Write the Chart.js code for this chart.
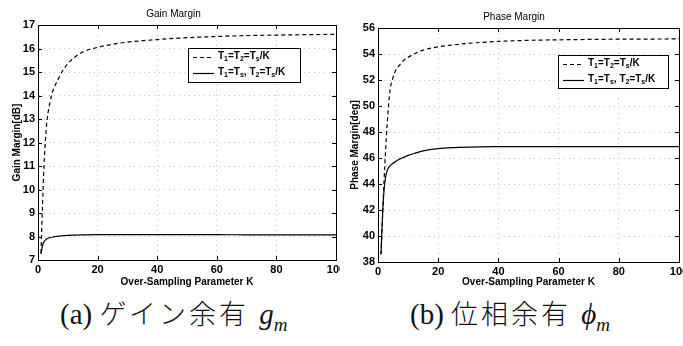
<!DOCTYPE html>
<html>
<head>
<meta charset="utf-8">
<script src="https://cdn.jsdelivr.net/npm/chart.js@4.4.1/dist/chart.umd.min.js"></script>
<style>
    body { margin: 0; background: #fff; width: 683px; height: 346px; position: relative; overflow: hidden; }
    canvas { position: absolute; top: 0; }
    #gainChart { left: 0; }
    #phaseChart { left: 340px; }
    .caption {
        position: absolute; top: 293px; white-space: nowrap; color: #111;
        font-family: "Liberation Serif", "DejaVu Serif", serif; font-size: 29px;
    }
    .caption .jp { font-family: "Noto Sans CJK JP", sans-serif; font-weight: 300; font-size: 27px; letter-spacing: 3px; }
    .caption i { margin-left: 3px; }
    .caption i sub { font-size: 19px; }
</style>
</head>
<body>
<canvas id="gainChart" width="340" height="288"></canvas>
<canvas id="phaseChart" width="343" height="288"></canvas>
<div class="caption" style="left:60px">(a) <span class="jp">ゲイン余有</span> <i>g<sub>m</sub></i></div>
<div class="caption" style="left:410px">(b) <span class="jp">位相余有</span> <i>&#x3D5;<sub>m</sub></i></div>

<script>
// Over-sampling parameter K (x values shared by every curve)
const kValues = [1, 1.5, 2, 2.5, 3, 4, 5, 6, 7, 8, 10, 12, 15, 20, 25, 30, 40, 50, 60, 70, 80, 90, 100];

// Gain margin [dB]
const gainEqual = [7.3, 9.3, 11.0, 12.1, 12.9, 13.7, 14.2, 14.5, 14.75, 15.0, 15.35, 15.6, 15.85, 16.05, 16.18, 16.27, 16.38, 16.46, 16.51, 16.55, 16.57, 16.59, 16.6];
const gainSplit = [7.25, 7.6, 7.78, 7.85, 7.9, 7.95, 7.98, 8.0, 8.02, 8.03, 8.05, 8.06, 8.07, 8.08, 8.08, 8.08, 8.08, 8.08, 8.08, 8.07, 8.07, 8.07, 8.07];

// Phase margin [deg]
const phaseEqual = [38.6, 41.5, 44.2, 46.5, 48.5, 51.2, 52.2, 52.8, 53.1, 53.4, 53.75, 54.0, 54.3, 54.55, 54.7, 54.82, 54.97, 55.05, 55.09, 55.12, 55.14, 55.15, 55.16];
const phaseSplit = [38.6, 41.5, 43.5, 44.5, 45.0, 45.4, 45.6, 45.75, 45.9, 46.0, 46.2, 46.35, 46.55, 46.72, 46.8, 46.84, 46.87, 46.88, 46.88, 46.88, 46.88, 46.88, 46.88];

const seriesLabels = ['T1=T2=Ts/K', 'T1=Ts, T2=Ts/K'];

// Tick labels
const kTicks = [0, 20, 40, 60, 80, 100];
const gainTicks = [7, 8, 9, 10, 11, 12, 13, 14, 15, 16, 17];
const phaseTicks = [38, 40, 42, 44, 46, 48, 50, 52, 54, 56];

const FONT = 'Liberation Sans';

// MATLAB style box round the axes, with inward ticks
const framePlugin = {
    id: 'frame',
    afterDatasetsDraw(chart) {
        const { ctx, chartArea: a, scales } = chart;
        ctx.save();
        ctx.strokeStyle = '#000';
        ctx.lineWidth = 1;
        ctx.strokeRect(a.left + 0.5, a.top + 0.5, a.right - a.left, a.bottom - a.top);
        ctx.beginPath();
        scales.x.ticks.forEach(t => {
            const px = Math.round(scales.x.getPixelForValue(t.value)) + 0.5;
            ctx.moveTo(px, a.bottom); ctx.lineTo(px, a.bottom - 4);
            ctx.moveTo(px, a.top); ctx.lineTo(px, a.top + 4);
        });
        scales.y.ticks.forEach(t => {
            const py = Math.round(scales.y.getPixelForValue(t.value)) + 0.5;
            ctx.moveTo(a.left, py); ctx.lineTo(a.left + 4, py);
            ctx.moveTo(a.right, py); ctx.lineTo(a.right - 4, py);
        });
        ctx.stroke();
        ctx.restore();
    }
};

// draw a label like T1=Ts/K with the character after each T as a subscript
const drawSubText = (ctx, text, x, y) => {
    let cx = x;
    for (let i = 0; i < text.length; i++) {
        const ch = text[i];
        const isSub = i > 0 && text[i - 1] === 'T' && /[0-9s]/.test(ch);
        ctx.font = isSub ? `bold 7px ${FONT}` : `bold 10px ${FONT}`;
        ctx.fillText(ch, cx, isSub ? y + 3 : y);
        cx += ctx.measureText(ch).width;
    }
};

const boxLegend = {
    id: 'boxLegend',
    afterDraw(chart, args, opts) {
        const { ctx } = chart;
        const { x, y, w, h } = opts;
        ctx.save();
        ctx.fillStyle = '#fff';
        ctx.fillRect(x, y, w, h);
        ctx.strokeStyle = '#000';
        ctx.lineWidth = 1;
        ctx.strokeRect(x + 0.5, y + 0.5, w, h);
        ctx.fillStyle = '#000';
        ctx.textBaseline = 'middle';
        chart.data.datasets.forEach((ds, i) => {
            const ly = Math.round(y + 9 + i * 16) + 0.5;
            ctx.setLineDash(ds.borderDash || []);
            ctx.lineWidth = 1.2;
            ctx.beginPath();
            ctx.moveTo(x + 5, ly);
            ctx.lineTo(x + 26, ly);
            ctx.stroke();
            ctx.setLineDash([]);
            drawSubText(ctx, ds.label, x + 30, ly - 1);
        });
        ctx.restore();
    }
};

const makeChart = (id, cfg) => {
    const ctx = document.getElementById(id).getContext('2d');
    const tickFont = { family: FONT, size: 11, weight: 'bold' };
    const titleFont = { family: FONT, size: 10, weight: 'bold' };

    return new Chart(ctx, {
        type: 'line',
        data: {
            datasets: [
                {
                    label: seriesLabels[0],
                    data: kValues.map((k, i) => ({ x: k, y: cfg.equal[i] })),
                    borderColor: '#000',
                    borderWidth: 1.2,
                    borderDash: [4, 3],
                    pointRadius: 0,
                    cubicInterpolationMode: 'monotone'
                },
                {
                    label: seriesLabels[1],
                    data: kValues.map((k, i) => ({ x: k, y: cfg.split[i] })),
                    borderColor: '#000',
                    borderWidth: 1.2,
                    pointRadius: 0,
                    cubicInterpolationMode: 'monotone'
                }
            ]
        },
        options: {
            responsive: false,
            animation: false,
            layout: { padding: { left: cfg.padLeft, right: 4, top: 0, bottom: 0 } },
            plugins: {
                legend: { display: false },
                tooltip: { enabled: false },
                title: {
                    display: true,
                    text: cfg.title,
                    color: '#000',
                    font: { family: FONT, size: 10, weight: 'normal' },
                    padding: { top: cfg.titleTop, bottom: 5 }
                },
                boxLegend: cfg.legend
            },
            scales: {
                x: {
                    type: 'linear',
                    min: kTicks[0],
                    max: kTicks[kTicks.length - 1],
                    ticks: { stepSize: kTicks[1] - kTicks[0], color: '#000', font: tickFont, padding: 3 },
                    grid: { color: '#c8c8c8', drawTicks: false },
                    border: { color: '#000', dash: [1, 4] },
                    title: { display: true, text: 'Over-Sampling Parameter K', color: '#000', font: titleFont, padding: 0 },
                    afterFit: (s) => { s.height = cfg.xHeight; s.paddingLeft = 0; s.paddingRight = 0; }
                },
                y: {
                    min: cfg.yTicks[0],
                    max: cfg.yTicks[cfg.yTicks.length - 1],
                    ticks: { stepSize: cfg.yTicks[1] - cfg.yTicks[0], color: '#000', font: tickFont, padding: 3 },
                    grid: { color: '#c8c8c8', drawTicks: false },
                    border: { color: '#000', dash: [1, 4] },
                    title: { display: true, text: cfg.yTitle, color: '#000', font: titleFont, padding: 0 },
                    afterFit: (s) => { s.width = cfg.yWidth; s.paddingTop = 0; s.paddingBottom = 0; }
                }
            }
        },
        plugins: [framePlugin, boxLegend]
    });
};

makeChart('gainChart', {
    title: 'Gain Margin',
    yTitle: 'Gain Margin[dB]',
    equal: gainEqual,
    split: gainSplit,
    yTicks: gainTicks,
    padLeft: 11,
    yWidth: 27,
    titleTop: 8,
    xHeight: 28,
    legend: { x: 188, y: 48, w: 112, h: 34 }
});

makeChart('phaseChart', {
    title: 'Phase Margin',
    yTitle: 'Phase Margin[deg]',
    equal: phaseEqual,
    split: phaseSplit,
    yTicks: phaseTicks,
    padLeft: 9,
    yWidth: 29,
    titleTop: 11,
    xHeight: 26,
    legend: { x: 218, y: 55, w: 110, h: 33 }
});
</script>
</body>
</html>
